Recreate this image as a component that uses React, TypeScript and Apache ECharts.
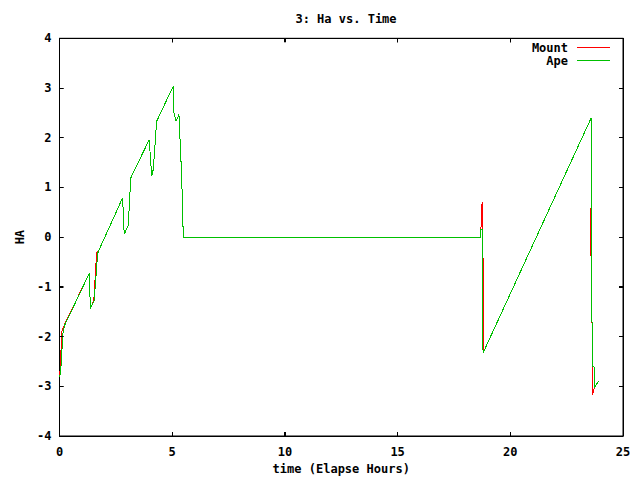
import React, { useEffect, useRef } from "react";
import * as echarts from "echarts";

const chartTitle = "3: Ha vs. Time";
const xAxisName = "time (Elapse Hours)";
const yAxisName = "HA";
const seriesNames = ["Mount", "Ape"];
const xTickValues = [0, 5, 10, 15, 20, 25];
const yTickValues = [-4, -3, -2, -1, 0, 1, 2, 3, 4];

const apeTime = [0, 0.05, 0.1, 0.15, 0.22, 1.32, 1.37, 1.54, 1.69, 1.72, 2.8, 2.87, 3.05, 3.16, 3.98, 4.09, 4.16, 4.31, 5.05, 5.08, 5.17, 5.3, 5.36, 5.42, 5.47, 5.49, 18.69, 18.69, 18.76, 18.77, 18.8, 23.58, 23.61, 23.61, 23.65, 23.65, 23.73, 23.73, 23.9];
const apeHa = [-2.82, -2.72, -2.35, -1.95, -1.78, -0.73, -1.44, -1.27, -0.34, -0.29, 0.79, 0.06, 0.23, 1.19, 1.96, 1.23, 1.36, 2.33, 3.04, 2.5, 2.33, 2.47, 1.83, 1.23, 0.43, 0, 0, 0.16, 0.16, -2.2, -2.32, 2.39, 2.3, -1.7, -1.72, -2.6, -2.62, -3.04, -2.9];

const mountTime = [0, 0.02, 0.06, 0.1, 0.2, 1.32, 1.37, 1.52, 1.55, 1.6, 1.66, 1.72, 2.8, 2.87, 3.05, 3.16, 3.98, 4.09, 4.16, 4.31, 5.05, 5.08, 5.17, 5.3, 5.36, 5.42, 5.47, 5.49, 18.69, 18.7, 18.72, 18.75, 18.76, 18.81, 18.81, 18.79, 18.8, 23.58, 23.61, 23.61, 23.58, 23.58, 23.61, 23.61, 23.63, 23.63, 23.73, 23.9];
const mountHa = [-2.82, -2.72, -2.35, -1.9, -1.78, -0.73, -1.44, -1.27, -1.1, -0.62, -0.3, -0.29, 0.79, 0.06, 0.23, 1.19, 1.96, 1.23, 1.36, 2.33, 3.04, 2.5, 2.33, 2.47, 1.83, 1.23, 0.43, 0, 0, 0.2, 0.45, 0.7, 0.16, -0.8, -1.08, -1.2, -2.32, 2.39, 2.3, 0.6, 0.58, -0.38, -0.4, -1.7, -1.72, -3.18, -3.04, -2.9];

const FONT = "DejaVu Sans Mono";

export default function App() {
  const ref = useRef<HTMLDivElement>(null);
  useEffect(() => {
    if (!ref.current) return;
    const chart = echarts.init(ref.current, null, { renderer: "svg" });
    const ape = apeTime.map((t, i) => [t, apeHa[i]]);
    const mount = mountTime.map((t, i) => [t, mountHa[i]]);
    const xMin = xTickValues[0];
    const xMax = xTickValues[xTickValues.length - 1];
    const yMin = yTickValues[0];
    const yMax = yTickValues[yTickValues.length - 1];
    const txt = { fontFamily: FONT, fontWeight: "bold" as const, fontSize: 12, color: "#000" };
    const tick = { show: true, inside: true, length: 4, lineStyle: { color: "#000", width: 1 } };
    const axLine = { show: true, onZero: false, lineStyle: { color: "#000", width: 1 } };
    chart.setOption({
      animation: false,
      backgroundColor: "#fff",
      title: {
        text: chartTitle,
        left: 341,
        textAlign: "center",
        top: 8,
        textStyle: { ...txt },
      },
      legend: {
        orient: "vertical",
        right: 25,
        top: 36,
        align: "right",
        icon: "rect",
        itemWidth: 33,
        itemHeight: 1,
        itemGap: 0,
        itemStyle: { borderWidth: 0 },
        textStyle: { ...txt, padding: [0, 4, 0, 0], lineHeight: 13 },
        data: seriesNames,
      },
      grid: {
        left: 59.5,
        right: 17,
        top: 38.3,
        bottom: 41.7,
        show: true,
        borderColor: "#000",
        borderWidth: 1,
        containLabel: false,
      },
      xAxis: [
        {
          type: "value",
          min: xMin,
          max: xMax,
          interval: 5,
          name: xAxisName,
          nameLocation: "middle",
          nameGap: 27,
          nameTextStyle: { ...txt },
          axisLine: axLine,
          axisTick: tick,
          axisLabel: { ...txt, margin: 10 },
          splitLine: { show: false },
        },
        {
          type: "value",
          position: "top",
          min: xMin,
          max: xMax,
          interval: 5,
          axisLine: axLine,
          axisTick: tick,
          axisLabel: { show: false },
          splitLine: { show: false },
        },
      ],
      yAxis: [
        {
          type: "value",
          min: yMin,
          max: yMax,
          interval: 1,
          name: yAxisName,
          nameLocation: "middle",
          nameGap: 22,
          nameTextStyle: { ...txt },
          axisLine: axLine,
          axisTick: tick,
          axisLabel: { ...txt, margin: 8 },
          splitLine: { show: false },
        },
        {
          type: "value",
          position: "right",
          min: yMin,
          max: yMax,
          interval: 1,
          axisLine: axLine,
          axisTick: tick,
          axisLabel: { show: false },
          splitLine: { show: false },
        },
      ],
      series: [
        {
          name: seriesNames[0],
          type: "line",
          data: mount,
          symbol: "none",
          xAxisIndex: 0,
          yAxisIndex: 0,
          lineStyle: { color: "#ff0000", width: 1 },
          itemStyle: { color: "#ff0000" },
        },
        {
          name: seriesNames[1],
          type: "line",
          data: ape,
          symbol: "none",
          xAxisIndex: 0,
          yAxisIndex: 0,
          lineStyle: { color: "#00c000", width: 1 },
          itemStyle: { color: "#00c000" },
        },
      ],
    });

    // mirrored inward ticks, positioned through the chart's own scales
    const L = 4;
    const snap = (v: number) => Math.round(v - 0.5) + 0.5;
    const tickLines: any[] = [];
    const mk = (x1: number, y1: number, x2: number, y2: number) => ({
      type: "line",
      silent: true,
      z: 10,
      shape: { x1, y1, x2, y2 },
      style: { stroke: "#000", lineWidth: 1 },
    });
    xTickValues.forEach((v) => {
      const b = chart.convertToPixel({ gridIndex: 0 }, [v, yMin]) as number[];
      const t = chart.convertToPixel({ gridIndex: 0 }, [v, yMax]) as number[];
      const x = snap(b[0]);
      tickLines.push(mk(x, b[1], x, b[1] - L));
      tickLines.push(mk(x, t[1], x, t[1] + L));
    });
    yTickValues.forEach((v) => {
      const l = chart.convertToPixel({ gridIndex: 0 }, [xMin, v]) as number[];
      const r = chart.convertToPixel({ gridIndex: 0 }, [xMax, v]) as number[];
      const y = snap(l[1]);
      tickLines.push(mk(l[0], y, l[0] + L, y));
      tickLines.push(mk(r[0], y, r[0] - L, y));
    });
    chart.setOption({ graphic: tickLines });

    return () => chart.dispose();
  }, []);
  return (
    <>
      <style>{'.chartbox svg path[fill="none"][stroke="#ff0000"], .chartbox svg path[fill="none"][stroke="#00c000"] { shape-rendering: crispEdges; }'}</style>
      <div
        ref={ref}
        className="chartbox"
        style={{ position: "fixed", left: 0, top: 0, width: 640, height: 480 }}
      />
    </>
  );
}
